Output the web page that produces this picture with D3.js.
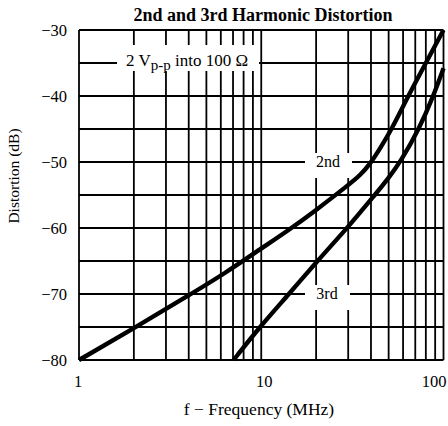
<!DOCTYPE html>
<html><head><meta charset="utf-8">
<script src="https://cdn.jsdelivr.net/npm/d3@7"></script>
<style>body{margin:0;background:#fff}svg{display:block}</style>
</head><body><svg id="c" width="448" height="426"></svg>
<script>
const chartTitle = "2nd and 3rd Harmonic Distortion";
const xAxisTitle = "f \u2212 Frequency (MHz)";
const yAxisTitle = "Distortion (dB)";
const xTickValues = [1, 10, 100];
const xTickLabels = ["1", "10", "100"];
const yTickValues = [-30, -40, -50, -60, -70, -80];
const yTickLabels = ["\u221230", "\u221240", "\u221250", "\u221260", "\u221270", "\u221280"];
const xGridValues = [1,2,3,4,5,6,7,8,9,10,20,30,40,50,60,70,80,90,100];
const yGridValues = [-30,-35,-40,-45,-50,-55,-60,-65,-70,-75,-80];
const freq2nd = [1, 2, 4, 6.3, 10, 14, 20, 30, 35, 40, 45, 52, 64, 80, 100];
const dist2nd = [-80, -75.2, -70.2, -66.9, -63.1, -60.4, -57.3, -53.5, -52.0, -50.1, -47.9, -45, -40, -35, -30];
const freq3rd = [7.05, 9.8, 14.2, 20.3, 29.6, 35, 42, 50, 58, 73.5, 88, 100];
const dist3rd = [-80, -75, -70, -65, -60, -57.6, -55, -52.4, -50, -45, -40, -35.8];
const seriesLabels = ["2nd", "3rd"];

const svg = d3.select("#c");
const L = 79, R = 443.5, T = 30, B = 360;
const x = d3.scaleLog().domain([1, 100]).range([L, R]);
const y = d3.scaleLinear().domain([-80, -30]).range([B, T]);
const serif = "'Liberation Serif', 'Times New Roman', serif";

// grid
const g = svg.append("g").attr("stroke", "#000").attr("stroke-width", 1.8);
g.selectAll("line.v").data(xGridValues).join("line")
  .attr("x1", d => x(d)).attr("x2", d => x(d)).attr("y1", T).attr("y2", B);
g.selectAll("line.h").data(yGridValues).join("line")
  .attr("y1", d => y(d)).attr("y2", d => y(d)).attr("x1", L).attr("x2", R);

// annotation boxes (blank gridlines behind labels)
const ann = svg.append("g").attr("font-family", serif).attr("font-size", 17).attr("fill", "#000");
ann.append("rect").attr("x", 117).attr("y", 45).attr("width", 142).attr("height", 26).attr("fill", "#fff");
const t = ann.append("text").attr("x", 126).attr("y", 66);
t.append("tspan").text("2 V");
t.append("tspan").attr("font-size", 15).attr("dy", 4).text("p-p");
t.append("tspan").attr("dy", -4).text(" into 100 \u03A9");

ann.append("rect").attr("x", 305).attr("y", 153).attr("width", 47).attr("height", 25).attr("fill", "#fff");
ann.append("text").attr("x", 328).attr("y", y(-50) + 5).attr("font-size", 16).attr("text-anchor", "middle").text(seriesLabels[0]);
ann.append("rect").attr("x", 305).attr("y", 285).attr("width", 45).attr("height", 25).attr("fill", "#fff");
ann.append("text").attr("x", 327).attr("y", y(-70) + 5).attr("font-size", 16).attr("text-anchor", "middle").text(seriesLabels[1]);

// curves
const line = d3.line().x(d => x(d[0])).y(d => y(d[1])).curve(d3.curveBasis);
svg.append("path").datum(d3.zip(freq2nd, dist2nd)).attr("d", line)
  .attr("fill", "none").attr("stroke", "#000").attr("stroke-width", 4.4);
svg.append("path").datum(d3.zip(freq3rd, dist3rd)).attr("d", line)
  .attr("fill", "none").attr("stroke", "#000").attr("stroke-width", 4.4);

// tick labels
const tx = svg.append("g").attr("font-family", serif).attr("font-size", 16.5).attr("fill", "#000");
tx.selectAll("text.x").data(xTickValues).join("text")
  .attr("x", (d, i) => i === 2 ? x(d) + 3 : x(d) + (i === 1 ? 3 : -1))
  .attr("y", 387)
  .attr("text-anchor", (d, i) => i === 2 ? "end" : "middle")
  .text((d, i) => xTickLabels[i]);
tx.selectAll("text.y").data(yTickValues).join("text")
  .attr("x", 67).attr("y", d => y(d) + 5.5)
  .attr("text-anchor", "end")
  .text((d, i) => yTickLabels[i]);

// titles
svg.append("text").attr("x", 263).attr("y", 21).attr("text-anchor", "middle")
  .attr("font-family", serif).attr("font-size", 18).attr("font-weight", "bold").text(chartTitle);
svg.append("text").attr("x", 259).attr("y", 415).attr("text-anchor", "middle")
  .attr("font-family", serif).attr("font-size", 17.5).text(xAxisTitle);
svg.append("text").attr("transform", "translate(19,176) rotate(-90)").attr("text-anchor", "middle")
  .attr("font-family", serif).attr("font-size", 15.5).text(yAxisTitle);
</script></body></html>
